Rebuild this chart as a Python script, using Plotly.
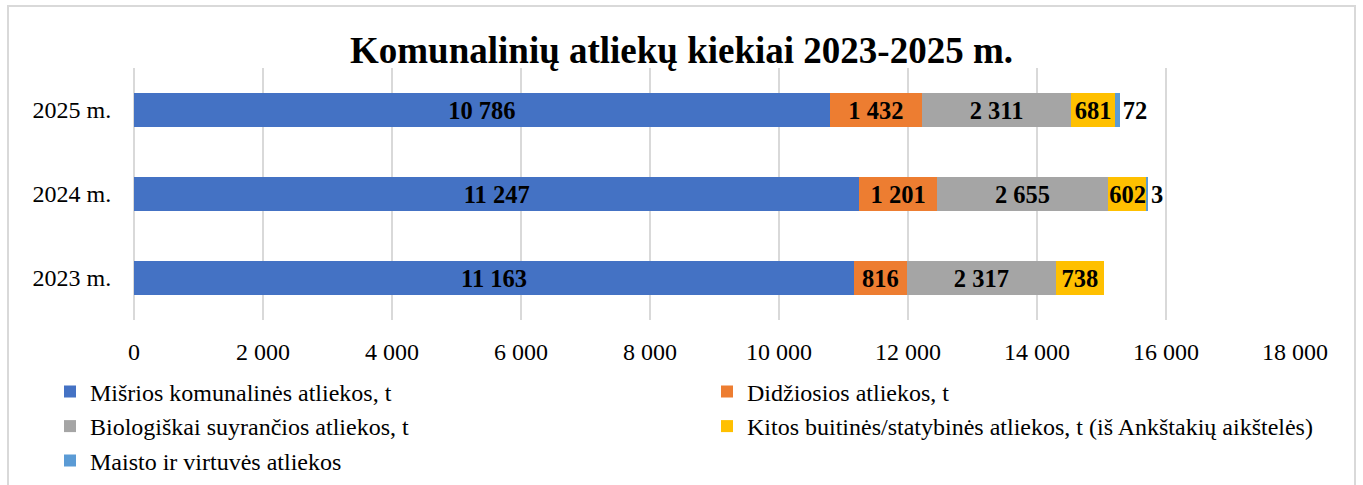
import plotly.graph_objects as go

years = ["2023 m.", "2024 m.", "2025 m."]
misrios = [11163, 11247, 10786]
didziosios = [816, 1201, 1432]
biologiskai = [2317, 2655, 2311]
kitos = [738, 602, 681]
maisto = [None, 3, 72]

series = [
    ("Mišrios komunalinės atliekos, t", misrios, "#4472C4"),
    ("Didžiosios atliekos, t", didziosios, "#ED7D31"),
    ("Biologiškai suyrančios atliekos, t", biologiskai, "#A5A5A5"),
    ("Kitos buitinės/statybinės atliekos, t (iš Ankštakių aikštelės)", kitos, "#FFC000"),
    ("Maisto ir virtuvės atliekos", maisto, "#5B9BD5"),
]

# legend slot (column, row) for each series
slots = [(0, 0), (1, 0), (0, 1), (1, 1), (0, 2)]

FONT = "Liberation Serif, Times New Roman, serif"
L, R, T, B = 134, 68, 68, 165
W, H = 1363, 485
PW, PH = W - L - R, H - T - B

fig = go.Figure()
legend_layouts = {}
col_text_x = [90, 747]
row_center_y = [392, 426.5, 461]
for i, (name, vals, color) in enumerate(series):
    last = i == len(series) - 1
    lg = "legend" if i == 0 else f"legend{i + 1}"
    fig.add_trace(go.Bar(
        y=years, x=vals, name=name, orientation="h",
        marker=dict(color=color, line=dict(width=0)),
        texttemplate="%{x:,}",
        textposition="outside" if last else "inside",
        insidetextanchor="middle",
        constraintext="none",
        cliponaxis=False,
        textfont=dict(family=FONT, size=24.5, color="black", weight="bold"),
        legend=lg,
    ))
    c, r = slots[i]
    legend_layouts[lg] = dict(
        x=(col_text_x[c] - 40 - L) / PW, xanchor="left",
        y=(PH + T - row_center_y[r]) / PH, yanchor="middle",
        orientation="v", font=dict(family=FONT, size=24, color="black"),
        bgcolor="rgba(0,0,0,0)",
    )

fig.update_layout(
    width=W, height=H,
    barmode="stack", bargap=0.6,
    separators=". ",
    paper_bgcolor="white", plot_bgcolor="white",
    margin=dict(l=L, r=R, t=T, b=B, autoexpand=False),
    font=dict(family=FONT, size=24, color="black"),
    title=dict(text="<b>Komunalinių atliekų kiekiai 2023-2025 m.</b>",
               x=0.5, xanchor="center", y=0.897, yanchor="middle",
               font=dict(family=FONT, size=37, color="black")),
    xaxis=dict(range=[0, 18000], dtick=2000, tickformat=",", showgrid=True,
               gridcolor="#D9D9D9", gridwidth=2, zeroline=True, zerolinecolor="#D9D9D9",
               zerolinewidth=2, ticks="outside", ticklen=10, tickcolor="rgba(0,0,0,0)",
               showline=False, automargin=False),
    yaxis=dict(categoryorder="array", categoryarray=years, ticks="outside", ticklen=17,
               tickcolor="rgba(0,0,0,0)", showline=False, showgrid=False, automargin=False),
    showlegend=True,
    shapes=[dict(type="rect", xref="paper", yref="paper",
                 x0=(8 - L) / PW, x1=(1355 - L) / PW,
                 y0=(PH + T - 495) / PH, y1=(PH + T - 6) / PH,
                 line=dict(color="#D9D9D9", width=2), fillcolor="rgba(0,0,0,0)", layer="below")],
    **legend_layouts,
)

fig.write_html("out.html", config={"displayModeBar": False},
               post_script="document.body.style.margin='0px';")
